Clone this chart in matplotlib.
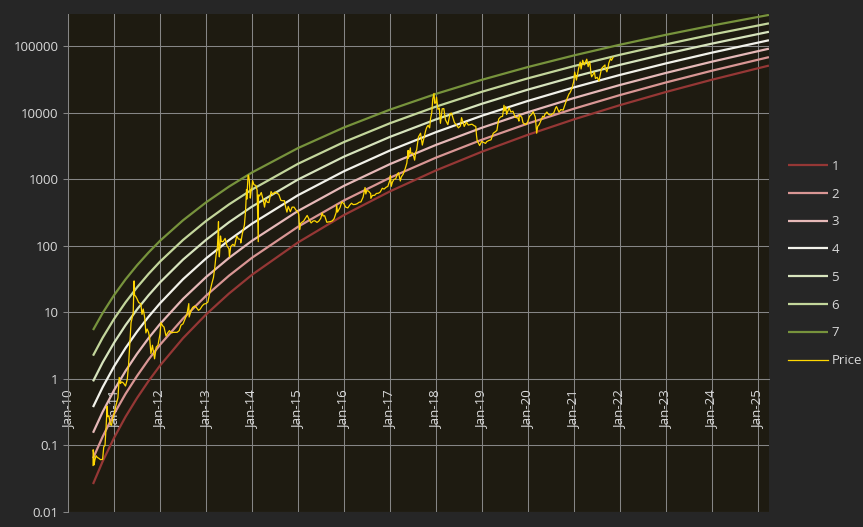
import matplotlib
matplotlib.use('Agg')
import matplotlib.pyplot as plt
from matplotlib.ticker import NullLocator
import pandas as pd

plt.rcParams['font.family'] = ['Open Sans', 'DejaVu Sans']

# band curves at these dates
band_dates = ['2010-07-17', '2010-10-01', '2011-01-01', '2011-04-01', '2011-07-01',
              '2011-10-01', '2012-01-01', '2012-07-01', '2013-01-01', '2013-07-01',
              '2014-01-01', '2015-01-01', '2016-01-01', '2017-01-01', '2018-01-01',
              '2019-01-01', '2020-01-01', '2021-01-01', '2022-01-01', '2023-01-01',
              '2024-01-01', '2025-01-01', '2025-04-01']
band_1 = [0.0263, 0.0574, 0.131, 0.269, 0.513, 0.927, 1.59, 4.08, 9.31, 19.1, 36.7,
          112, 289, 656, 1352, 2582, 4634, 7903, 12916, 20350, 31080, 46180, 50870]
band_2 = [0.0639, 0.135, 0.299, 0.594, 1.10, 1.95, 3.26, 8.05, 17.8, 35.4, 66.1,
          193, 479, 1051, 2103, 3908, 6848, 11428, 18296, 28300, 42470, 62090, 68140]
band_3 = [0.155, 0.318, 0.680, 1.31, 2.37, 4.08, 6.70, 15.9, 33.9, 65.5, 119,
          333, 794, 1684, 3268, 5917, 10123, 16524, 25933, 39355, 58040, 83490, 91250]
band_4 = [0.377, 0.747, 1.55, 2.90, 5.10, 8.57, 13.7, 31.4, 64.7, 121, 215,
          574, 1315, 2697, 5082, 8961, 14960, 23885, 36740, 54730, 79320, 112200, 122200]
band_5 = [0.917, 1.76, 3.51, 6.39, 11.0, 18.0, 28.2, 61.9, 123, 225, 388,
          988, 2178, 4320, 7904, 13565, 22112, 34540, 52065, 76130, 108400, 150900, 163700]
band_6 = [2.23, 4.14, 7.99, 14.1, 23.6, 37.7, 57.9, 122, 236, 417, 700,
          1702, 3609, 6920, 12285, 20538, 32686, 49944, 73760, 105850, 148200, 202900, 219200]
band_7 = [5.41, 9.73, 18.2, 31.2, 50.7, 79.1, 119, 241, 449, 772, 1262,
          2931, 5978, 11085, 19100, 31090, 48300, 72222, 104520, 147200, 202500, 272900, 293500]

bands = [band_1, band_2, band_3, band_4, band_5, band_6, band_7]
band_labels = ['1', '2', '3', '4', '5', '6', '7']
band_colors = ['#953735', '#d99694', '#e6b9b8', '#f2f2ea', '#d7e4bd', '#c3d69b', '#77933c']

# price
price_dates = [
    '2010-07-17', '2010-07-18', '2010-07-21', '2010-07-25', '2010-08-01', '2010-08-10',
    '2010-08-20', '2010-09-01', '2010-09-15', '2010-10-01', '2010-10-10', '2010-10-20',
    '2010-10-28', '2010-11-06', '2010-11-10', '2010-11-20', '2010-12-01', '2010-12-10',
    '2010-12-20', '2011-01-01', '2011-01-15', '2011-01-31', '2011-02-10', '2011-02-20',
    '2011-03-01', '2011-03-15', '2011-04-01', '2011-04-15', '2011-04-25', '2011-05-05',
    '2011-05-15', '2011-05-25', '2011-06-01', '2011-06-08', '2011-06-12', '2011-06-20',
    '2011-07-01', '2011-07-15', '2011-08-01', '2011-08-10', '2011-08-20', '2011-09-01',
    '2011-09-10', '2011-09-20', '2011-10-01', '2011-10-10', '2011-10-20', '2011-11-01',
    '2011-11-18', '2011-12-01', '2011-12-15', '2011-12-31',
    '2012-01-08', '2012-01-20', '2012-02-01', '2012-02-17', '2012-03-01', '2012-03-15',
    '2012-04-01', '2012-04-15', '2012-05-01', '2012-05-15', '2012-06-01', '2012-06-15',
    '2012-07-01', '2012-07-15', '2012-08-01', '2012-08-16', '2012-08-19', '2012-09-01',
    '2012-09-15', '2012-10-01', '2012-10-15', '2012-11-01', '2012-11-15', '2012-12-01',
    '2012-12-15', '2012-12-31',
    '2013-01-15', '2013-01-31', '2013-02-15', '2013-02-28', '2013-03-10', '2013-03-20',
    '2013-03-31', '2013-04-05', '2013-04-09', '2013-04-12', '2013-04-16', '2013-04-25',
    '2013-05-01', '2013-05-15', '2013-06-01', '2013-06-15', '2013-07-01', '2013-07-05',
    '2013-07-15', '2013-08-01', '2013-08-15', '2013-09-01', '2013-09-15', '2013-10-01',
    '2013-10-03', '2013-10-15', '2013-11-01', '2013-11-10', '2013-11-18', '2013-11-20',
    '2013-11-30', '2013-12-04', '2013-12-10', '2013-12-18', '2013-12-24', '2013-12-31',
    '2014-01-05', '2014-01-15', '2014-02-01', '2014-02-10', '2014-02-19', '2014-02-21',
    '2014-03-01', '2014-03-15', '2014-04-01', '2014-04-10', '2014-04-20', '2014-05-01',
    '2014-05-15', '2014-06-01', '2014-06-15', '2014-07-01', '2014-07-15', '2014-08-01',
    '2014-08-18', '2014-09-01', '2014-09-15', '2014-09-22', '2014-10-05', '2014-10-15',
    '2014-11-01', '2014-11-15', '2014-12-01', '2014-12-15', '2014-12-31',
    '2015-01-07', '2015-01-14', '2015-01-20', '2015-02-01', '2015-02-15', '2015-03-01',
    '2015-03-15', '2015-04-01', '2015-04-15', '2015-05-01', '2015-05-15', '2015-06-01',
    '2015-06-15', '2015-07-01', '2015-07-12', '2015-07-20', '2015-08-01', '2015-08-18',
    '2015-09-01', '2015-09-15', '2015-10-01', '2015-10-15', '2015-11-01', '2015-11-04',
    '2015-11-11', '2015-12-01', '2015-12-15', '2015-12-31',
    '2016-01-15', '2016-02-01', '2016-02-15', '2016-03-01', '2016-03-15', '2016-04-01',
    '2016-04-15', '2016-05-01', '2016-05-15', '2016-06-01', '2016-06-17', '2016-06-23',
    '2016-07-01', '2016-07-15', '2016-08-01', '2016-08-02', '2016-08-15', '2016-09-01',
    '2016-09-15', '2016-10-01', '2016-10-15', '2016-11-01', '2016-11-15', '2016-12-01',
    '2016-12-15', '2016-12-31',
    '2017-01-04', '2017-01-11', '2017-01-20', '2017-02-01', '2017-02-15', '2017-03-01',
    '2017-03-10', '2017-03-24', '2017-04-01', '2017-04-15', '2017-05-01', '2017-05-15',
    '2017-05-25', '2017-05-27', '2017-06-12', '2017-06-15', '2017-07-01', '2017-07-16',
    '2017-07-25', '2017-08-01', '2017-08-15', '2017-09-01', '2017-09-15', '2017-10-01',
    '2017-10-12', '2017-10-20', '2017-10-31', '2017-11-12', '2017-11-20', '2017-11-29',
    '2017-12-07', '2017-12-17', '2017-12-22', '2017-12-31',
    '2018-01-06', '2018-01-17', '2018-01-28', '2018-02-06', '2018-02-20', '2018-03-05',
    '2018-03-18', '2018-04-06', '2018-04-24', '2018-05-05', '2018-05-28', '2018-06-15',
    '2018-06-29', '2018-07-15', '2018-07-24', '2018-08-14', '2018-09-01', '2018-09-15',
    '2018-10-01', '2018-10-15', '2018-11-01', '2018-11-14', '2018-11-20', '2018-11-25',
    '2018-12-15', '2018-12-31',
    '2019-01-10', '2019-01-31', '2019-02-08', '2019-02-24', '2019-03-15', '2019-04-02',
    '2019-04-15', '2019-05-01', '2019-05-15', '2019-05-30', '2019-06-15', '2019-06-26',
    '2019-07-02', '2019-07-10', '2019-07-17', '2019-08-06', '2019-08-20', '2019-09-05',
    '2019-09-24', '2019-10-15', '2019-10-23', '2019-10-26', '2019-11-15', '2019-11-25',
    '2019-12-17', '2019-12-31',
    '2020-01-15', '2020-01-31', '2020-02-13', '2020-03-01', '2020-03-12', '2020-03-20',
    '2020-04-01', '2020-04-29', '2020-05-10', '2020-05-15', '2020-06-01', '2020-06-15',
    '2020-07-01', '2020-07-26', '2020-08-10', '2020-08-17', '2020-09-05', '2020-09-20',
    '2020-10-08', '2020-10-21', '2020-11-05', '2020-11-24', '2020-12-01', '2020-12-17',
    '2020-12-31',
    '2021-01-08', '2021-01-22', '2021-02-08', '2021-02-21', '2021-02-28', '2021-03-13',
    '2021-03-25', '2021-04-14', '2021-04-25', '2021-05-08', '2021-05-19', '2021-05-23',
    '2021-06-14', '2021-06-22', '2021-07-06', '2021-07-20', '2021-08-06', '2021-08-14',
    '2021-09-06', '2021-09-07', '2021-09-21', '2021-10-01', '2021-10-06', '2021-10-20',
    '2021-10-28', '2021-11-09']
price_values = [
    0.05, 0.086, 0.079, 0.051, 0.061, 0.07,
    0.066, 0.064, 0.061, 0.062, 0.095, 0.10,
    0.18, 0.39, 0.27, 0.28, 0.21, 0.20,
    0.25, 0.30, 0.40, 0.52, 1.05, 0.85,
    0.90, 0.87, 0.78, 0.98, 1.6, 3.4,
    7.0, 8.4, 9.6, 29.6, 18, 17.5,
    16, 14, 13.4, 9.3, 11.2, 8.2,
    4.9, 5.6, 5.0, 4.1, 2.4, 3.2,
    2.0, 3.0, 3.2, 4.7,
    7.0, 6.3, 6.0, 4.4, 4.9, 5.3,
    4.9, 5.0, 5.0, 5.0, 5.3, 6.4,
    6.7, 7.8, 9.3, 13.5, 8.5, 10.3,
    11.8, 12.4, 11.8, 10.7, 11.2, 12.5,
    13.3, 13.5,
    14.3, 20.4, 27, 33.4, 46, 70,
    93, 142, 230, 85, 68, 140,
    116, 115, 129, 100, 90, 68,
    97, 105, 99, 140, 126, 125,
    110, 150, 205, 330, 700, 500,
    1130, 1150, 950, 520, 670, 750,
    950, 830, 800, 680, 115, 580,
    560, 630, 470, 380, 500, 450,
    445, 650, 590, 640, 620, 590,
    480, 475, 475, 400, 320, 390,
    325, 380, 380, 345, 320,
    295, 175, 215, 225, 235, 260,
    285, 245, 220, 235, 237, 224,
    234, 258, 310, 280, 282, 225,
    228, 230, 237, 255, 320, 410,
    320, 375, 455, 430,
    380, 370, 405, 435, 415, 418,
    428, 450, 455, 535, 750, 600,
    675, 660, 605, 515, 570, 572,
    610, 615, 640, 730, 710, 755,
    780, 960,
    1130, 780, 900, 990, 1010, 1190,
    1250, 940, 1080, 1180, 1420, 1740,
    2700, 2050, 2950, 2440, 2480, 1930,
    2550, 2750, 4300, 4900, 3250, 4400,
    5400, 6000, 6450, 5900, 8200, 9900,
    16000, 19400, 13800, 14000,
    17100, 11200, 11700, 6900, 11400, 11500,
    7800, 6600, 9700, 9800, 7100, 6450,
    5900, 6300, 8400, 6200, 7200, 6500,
    6600, 6700, 6350, 6200, 4500, 3800,
    3200, 3700,
    3600, 3450, 3650, 3800, 3900, 4900,
    5100, 5400, 8000, 8600, 8800, 12900,
    10600, 12300, 9400, 11800, 10200, 10500,
    8500, 8300, 7450, 9250, 8500, 7000,
    6600, 7200,
    8800, 9350, 10300, 8600, 4900, 6200,
    6600, 8800, 8600, 9300, 10200, 9400,
    9200, 9900, 11800, 12300, 10200, 11100,
    10900, 12900, 15600, 19100, 19700, 23000,
    29000,
    40600, 30800, 46000, 57400, 45200, 61200,
    52000, 63500, 49000, 58000, 37000, 34500,
    40500, 32500, 34000, 29800, 42800, 47000,
    52000, 46500, 41000, 48100, 55300, 65000,
    61000, 67500]

year_ticks = pd.date_range('2010-01-01', '2025-01-01', freq='YS')
y_ticks = [0.01, 0.1, 1, 10, 100, 1000, 10000, 100000]
y_tick_labels = ['0.01', '0.1', '1', '10', '100', '1000', '10000', '100000']

text_color = '#d9d9d9'
grid_color = '#868686'

fig = plt.figure(figsize=(8.63, 5.27), dpi=100, facecolor='#262626')
ax = fig.add_axes([0.0791, 0.0285, 0.8119, 0.9444], facecolor='#1e1b11')

bx = pd.to_datetime(band_dates)
for vals, lab, col in zip(bands, band_labels, band_colors):
    ax.plot(bx, vals, color=col, lw=1.6, label=lab, solid_capstyle='butt')
ax.plot(pd.to_datetime(price_dates), price_values, color='#ffd700', lw=0.9, label='Price')

ax.set_yscale('log')
ax.set_ylim(0.01, 300000)
ax.set_xlim(pd.Timestamp('2010-01-01'), pd.Timestamp('2025-04-01'))
ax.set_yticks(y_ticks)
ax.set_yticklabels(y_tick_labels)
ax.yaxis.set_minor_locator(NullLocator())
ax.set_xticks(year_ticks)
ax.set_xticklabels([d.strftime('Jan-%y') for d in year_ticks])

# horizontal axis crosses at 1, like the original
ax.spines['bottom'].set_position(('data', 1))
ax.spines['bottom'].set_color(grid_color)
ax.spines['bottom'].set_linewidth(0.75)
ax.spines['bottom'].set_zorder(1)
ax.spines['left'].set_color(grid_color)
ax.spines['left'].set_linewidth(0.75)
ax.spines['top'].set_visible(False)
ax.spines['right'].set_visible(False)

ax.tick_params(axis='x', length=0, pad=8, colors=text_color, labelsize=9.5,
               labelrotation=90)
ax.tick_params(axis='y', length=3.6, width=0.75, color=grid_color, pad=3.5,
               labelcolor=text_color, labelsize=9.5)
ax.set_axisbelow(True)
ax.grid(True, color=grid_color, lw=0.75)

fig.legend(loc='center left', bbox_to_anchor=(788 / 863, 0.5), frameon=False,
           fontsize=9.5, labelcolor=text_color, handlelength=3.0, handletextpad=0.3,
           labelspacing=1.12, borderpad=0, borderaxespad=0)

fig.savefig('out.png', dpi=100, facecolor=fig.get_facecolor())
